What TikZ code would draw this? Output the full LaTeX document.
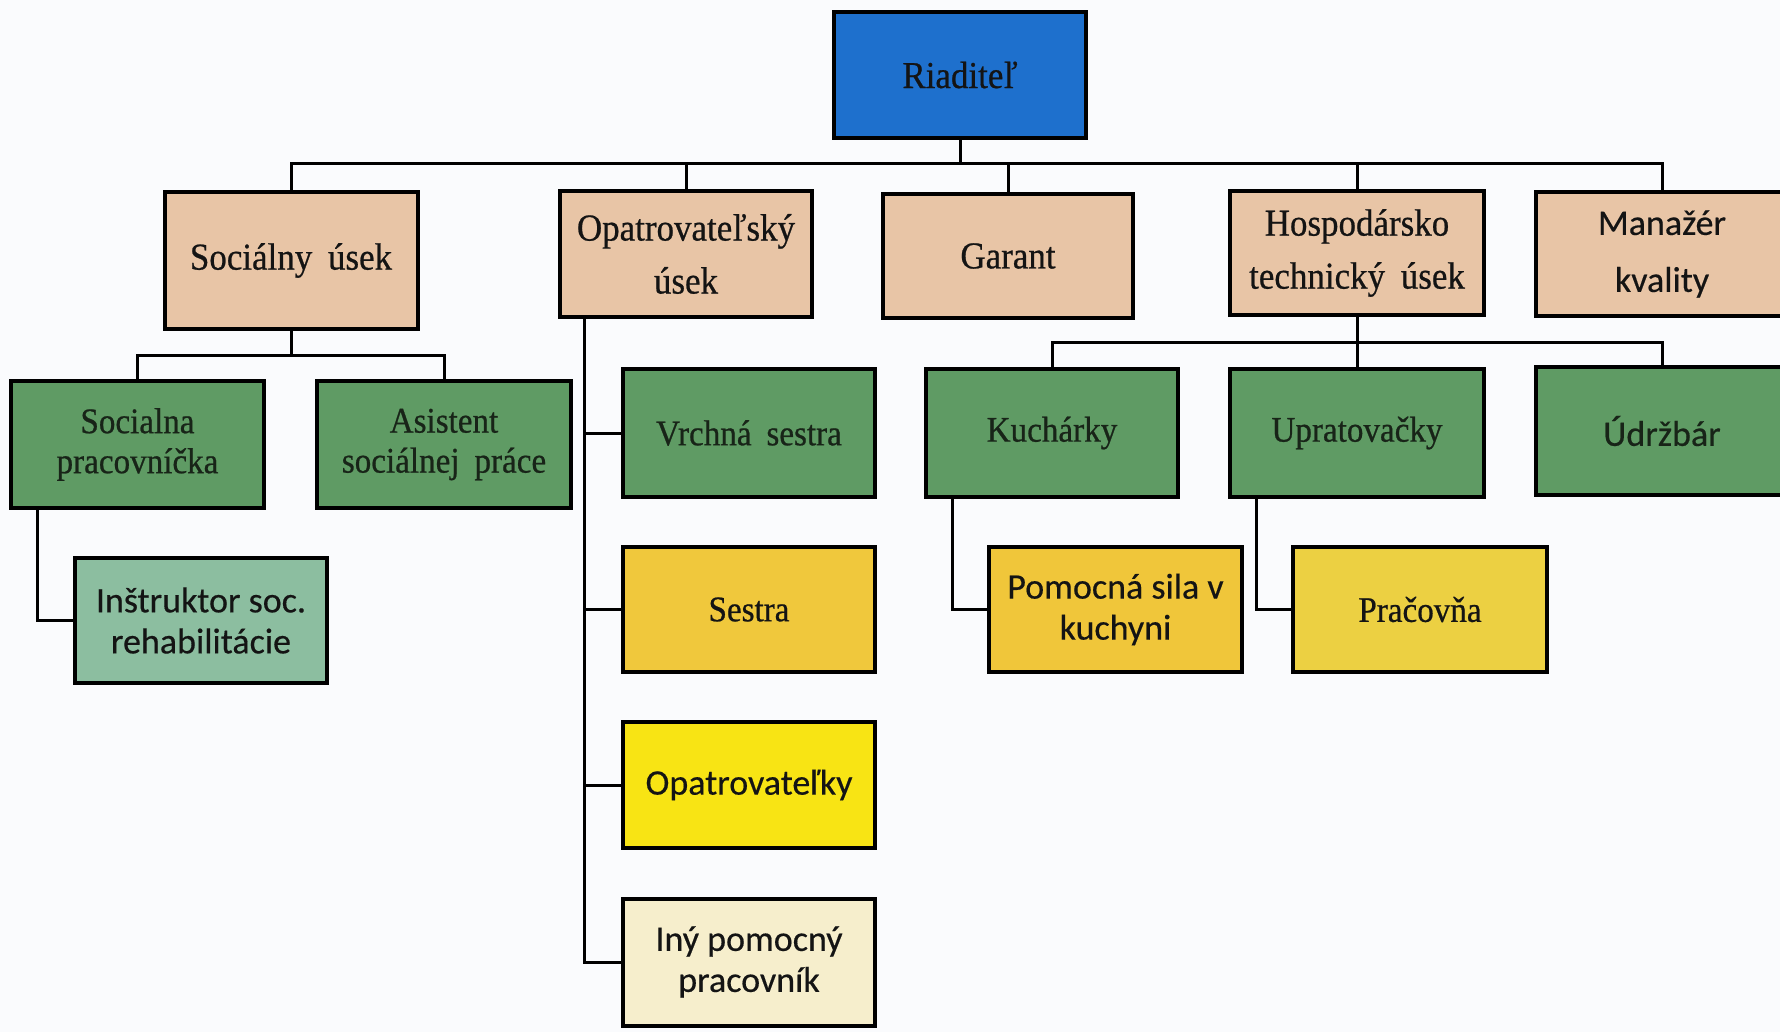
\documentclass[tikz,border=0pt]{standalone}
\usepackage{fontspec}
\setmainfont{Liberation Serif}[FakeStretch=0.92,WordSpace=1.8,FakeBold=0.6]
\newfontfamily\sansf{Carlito}[FakeBold=0.4]
\usetikzlibrary{calc}
\definecolor{bgc}{RGB}{250,251,253}
\definecolor{blueb}{RGB}{30,112,205}
\definecolor{tanb}{RGB}{232,197,166}
\definecolor{greenb}{RGB}{95,155,100}
\definecolor{tealb}{RGB}{140,190,160}
\definecolor{sestrab}{RGB}{240,200,60}
\definecolor{opatb}{RGB}{248,228,20}
\definecolor{inyb}{RGB}{246,238,204}
\definecolor{pomb}{RGB}{240,198,58}
\definecolor{pracb}{RGB}{236,208,66}
\definecolor{txt}{RGB}{20,20,20}
\definecolor{gtxt}{RGB}{24,36,24}
\tikzset{
  box/.style={draw=black,line width=4pt,inner sep=0pt,outer sep=0pt,align=center,
    minimum width=252pt,minimum height=126pt,text=txt},
  serifbig/.style={font=\fontsize{38}{53}\selectfont},
  serifgreen/.style={font=\fontsize{36}{40}\selectfont,text=gtxt},
  sansbox/.style={font=\sansf\fontsize{36}{41}\selectfont},
  conn/.style={draw=black,line width=3pt}
}
\begin{document}
\begin{tikzpicture}[x=1pt,y=-1pt]
\path[fill=bgc] (0,0) rectangle (1780,1032);
\useasboundingbox (0,0) rectangle (1780,1032);
\clip (0,0) rectangle (1780,1032);
% level 1
\node[box,fill=blueb,serifbig] (riad) at (960,75) {Riadite\v{l}};
% level 2
\node[box,fill=tanb,serifbig,minimum width=253pt,minimum height=137pt] (soc) at (291,260.5) {Sociálny úsek};
\node[box,fill=tanb,serifbig,minimum height=125pt] (opat) at (686,254) {Opatrovate\v{l}ský\\úsek};
\node[box,fill=tanb,serifbig,minimum width=250pt,minimum height=124pt] (gar) at (1008,256) {Garant};
\node[box,fill=tanb,serifbig,minimum width=254pt,minimum height=124pt] (ht) at (1357,253) {Hospodársko\\technický úsek};
\node[box,fill=tanb,font=\sansf\fontsize{36}{57}\selectfont,minimum height=124pt] (mk) at (1662,254) {Manažér\\kvality};
% level 3 social
\node[box,fill=greenb,serifgreen,minimum width=253pt,minimum height=127pt] (socp) at (137.5,444.5) {Socialna\\pracovníčka};
\node[box,fill=greenb,serifgreen,minimum width=254pt,minimum height=127pt] (asis) at (444,444.5) {Asistent\\sociálnej práce};
\node[box,fill=tealb,sansbox,minimum width=252pt,minimum height=125pt] (instr) at (201,620.5) {Inštruktor soc.\\rehabilitácie};
% opatrovatelsky column
\node[box,fill=greenb,serifgreen,minimum height=128pt] (vrch) at (749,433) {Vrchná sestra};
\node[box,fill=sestrab,font=\fontsize{36}{40}\selectfont,minimum height=125pt] (sest) at (749,609.5) {Sestra};
\node[box,fill=opatb,sansbox,minimum height=126pt] (opk) at (749,785) {Opatrovate\v{l}ky};
\node[box,fill=inyb,sansbox,minimum height=127pt] (iny) at (749,962) {Iný pomocný\\pracovník};
% hospodarsky
\node[box,fill=greenb,serifgreen,minimum height=128pt] (kuch) at (1052,433) {Kuchárky};
\node[box,fill=greenb,serifgreen,minimum width=254pt,minimum height=128pt] (uprat) at (1357,433) {Upratovačky};
\node[box,fill=greenb,font=\sansf\fontsize{36}{41}\selectfont,text=gtxt,minimum height=128pt] (udrz) at (1662,431) {Údržbár};
\node[box,fill=pomb,sansbox,minimum width=253pt,minimum height=125pt] (pom) at (1115.5,609.5) {Pomocná sila v\\kuchyni};
\node[box,fill=pracb,font=\fontsize{36}{40}\selectfont,minimum width=254pt,minimum height=125pt] (prac) at (1420,609.5) {Pračovňa};
% connectors
\coordinate (bus) at (0,164);
\coordinate (sbus) at (0,355);
\coordinate (hbus) at (0,342);
\draw[conn] (riad.south) -- (riad.south |- bus);
\draw[conn] (soc.north) -- (soc.north |- bus) -- (mk.north |- bus) -- (mk.north);
\draw[conn] (opat.north) -- (opat.north |- bus);
\draw[conn] (gar.north) -- (gar.north |- bus);
\draw[conn] (ht.north) -- (ht.north |- bus);
\draw[conn] (soc.south) -- (soc.south |- sbus);
\draw[conn] (socp.north) -- (socp.north |- sbus) -- (asis.north |- sbus) -- (asis.north);
\draw[conn] ([xshift=26pt]socp.south west) |- (instr.west);
\coordinate (oline) at ([xshift=24pt]opat.south west);
\draw[conn] (oline) |- (iny.west);
\draw[conn] (vrch.west) -- (vrch.west -| oline);
\draw[conn] (sest.west) -- (sest.west -| oline);
\draw[conn] (opk.west) -- (opk.west -| oline);
\draw[conn] (ht.south) -- (uprat.north);
\draw[conn] (kuch.north) -- (kuch.north |- hbus) -- (udrz.north |- hbus) -- (udrz.north);
\draw[conn] ([xshift=26pt]kuch.south west) |- (pom.west);
\draw[conn] ([xshift=26pt]uprat.south west) |- (prac.west);
\end{tikzpicture}
\end{document}
